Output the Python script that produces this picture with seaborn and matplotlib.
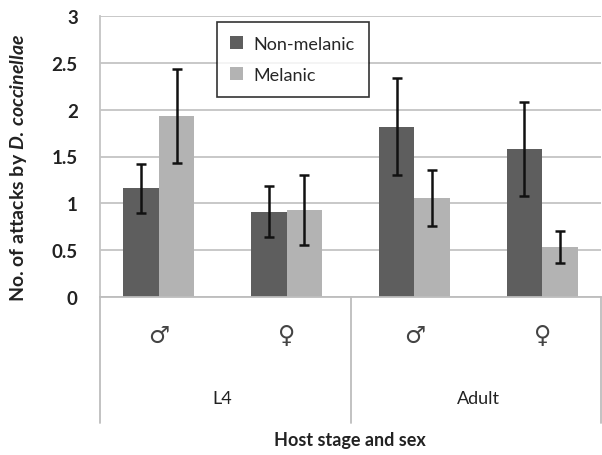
import matplotlib
matplotlib.use('Agg')
import matplotlib.pyplot as plt
import matplotlib.transforms as mtransforms
import pandas as pd
import seaborn as sns

# data
stages = ['L4', 'L4', 'Adult', 'Adult']
sexes = ['♂', '♀', '♂', '♀']
groups = ['L4 male', 'L4 female', 'Adult male', 'Adult female']
non_melanic = [1.16, 0.91, 1.82, 1.58]
non_melanic_err = [0.26, 0.27, 0.52, 0.50]
melanic = [1.93, 0.93, 1.06, 0.53]
melanic_err = [0.50, 0.37, 0.30, 0.17]

series = ['Non-melanic', 'Melanic']
colors = ['#5e5e5e', '#b3b3b3']

df = pd.DataFrame({
    'group': groups * 2,
    'morph': [series[0]] * 4 + [series[1]] * 4,
    'attacks': non_melanic + melanic,
    'err': non_melanic_err + melanic_err,
})

sns.set_theme(style='white')
plt.rcParams['font.family'] = ['Lato', 'DejaVu Sans']
plt.rcParams['mathtext.fontset'] = 'custom'
plt.rcParams['mathtext.it'] = 'Lato:italic:bold'
plt.rcParams['mathtext.rm'] = 'Lato:bold'

fig = plt.figure(figsize=(6.02, 4.56), dpi=100)
ax = fig.add_axes([100 / 602, 1 - 298 / 456, 501 / 602, 281 / 456])

sns.barplot(data=df, x='group', y='attacks', hue='morph', order=groups,
            hue_order=series, palette=colors, width=0.56, errorbar=None,
            saturation=1, linewidth=0, ax=ax)

# error bars on top of each bar
for cont, name in zip(ax.containers, series):
    sub = df[df['morph'] == name].set_index('group').loc[groups]
    xs = [p.get_x() + p.get_width() / 2 for p in cont.patches]
    ax.errorbar(xs, sub['attacks'], yerr=sub['err'], fmt='none',
                ecolor='#111111', elinewidth=1.8, capsize=3.5, capthick=1.8,
                zorder=5)

ax.set_ylim(0, 3)
ax.set_yticks([0, 0.5, 1, 1.5, 2, 2.5, 3])
ax.set_yticklabels(['0', '0.5', '1', '1.5', '2', '2.5', '3'])
ax.yaxis.grid(True, color='#c4c4c4', linewidth=1.3)
ax.set_axisbelow(True)
for s in ['top', 'right']:
    ax.spines[s].set_visible(False)
ax.spines['left'].set_color('#c4c4c4')
ax.spines['bottom'].set_color('#bdbdbd')
ax.spines['left'].set_linewidth(1.3)
ax.spines['bottom'].set_linewidth(1.3)
ax.tick_params(axis='y', length=0, pad=16, labelsize=13.5)
for t in ax.get_yticklabels():
    t.set_fontweight('bold')
    t.set_color('#222222')
ax.set_xticks([])
ax.set_xlabel('')
ax.set_ylabel('')

# two-level category axis below the plot
trans = mtransforms.blended_transform_factory(ax.transData, ax.transAxes)
for i, sx in enumerate(sexes):
    ax.text(i, -0.135, sx, transform=trans, ha='center', va='center',
            fontsize=17, color='#444444', family=['DejaVu Sans'])
ax.text(0.5, -0.36, stages[0], transform=trans, ha='center', va='center',
        fontsize=13, color='#222222')
ax.text(2.5, -0.36, stages[2], transform=trans, ha='center', va='center',
        fontsize=13, color='#222222')
for xa in [0, 0.5, 1]:
    ax.plot([xa, xa], [0, -0.45], transform=ax.transAxes, color='#bdbdbd',
            linewidth=1.3, clip_on=False)

fig.text(350 / 602, 1 - 441 / 456, 'Host stage and sex', ha='center',
         va='center', fontsize=13, fontweight='bold', color='#222222')
fig.text(19 / 602, 1 - 168 / 456,
         r'No. of attacks by $\it{D.\,coccinellae}$',
         rotation=90, ha='center', va='center', fontsize=14,
         fontweight='bold', color='#222222')

leg = ax.legend(loc='upper left', bbox_to_anchor=(0.233, 0.978),
                borderaxespad=0, fontsize=13, frameon=True, fancybox=False,
                handlelength=0.7, handleheight=0.7, handletextpad=0.6,
                labelspacing=0.85, borderpad=0.75)
leg.get_frame().set_edgecolor('black')
leg.get_frame().set_linewidth(1.2)

fig.savefig('out.png', dpi=100)
